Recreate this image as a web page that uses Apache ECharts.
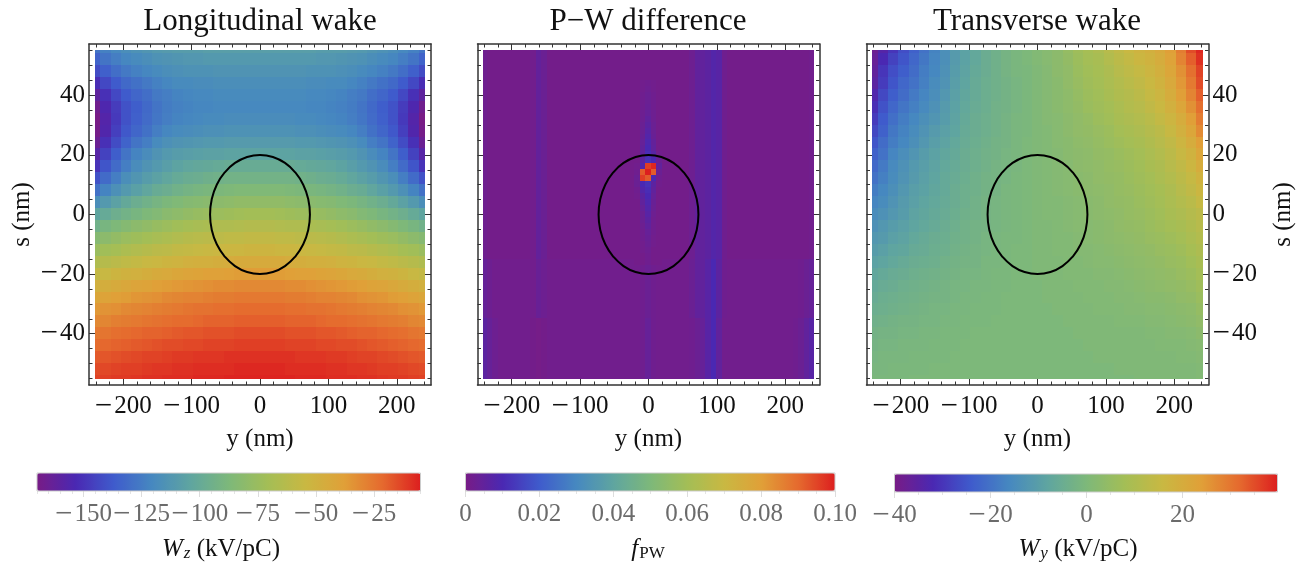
<!DOCTYPE html>
<html lang="en">
<head>
    <meta charset="utf-8" />
    <title>Wake fields</title>
    <script type="text/javascript" src="https://cdn.jsdelivr.net/npm/echarts@6/dist/echarts.min.js"></script>
    <style type="text/css">
        html, body { margin: 0; padding: 0; background: #fff; }
    </style>
</head>
<body>
    <div id="main" style="width:1310px;height:566px;"></div>

    <script type="text/javascript">
        // cell centres of the longitudinal and transverse maps
        var yCols = [-240, -225, -210, -195, -180, -165, -150, -135, -120, -105, -90, -75, -60, -45, -30, -15, 0, 15, 30, 45, 60, 75, 90, 105, 120, 135, 150, 165, 180, 195, 210, 225, 240];
        var sRows = [56, 52, 48, 44, 40, 36, 32, 28, 24, 20, 16, 12, 8, 4, 0, -4, -8, -12, -16, -20, -24, -28, -32, -36, -40, -44, -48, -52, -56];

        // W_z (kV/pC) is symmetric in y: one line per sRows entry, y = -240..0
        var wakeZ = [
            [-128, -123, -120, -117, -115, -113, -111, -110, -109, -109, -109, -108, -108, -108, -108, -108, -108],
            [-134, -128, -124, -121, -119, -117, -115, -114, -113, -112, -112, -111, -111, -111, -111, -111, -111],
            [-142, -135, -130, -126, -123, -121, -119, -117, -116, -115, -115, -115, -114, -114, -114, -114, -114],
            [-152, -143, -137, -132, -129, -126, -123, -121, -119, -119, -118, -118, -117, -117, -117, -117, -117],
            [-161, -151, -143, -137, -133, -130, -126, -124, -122, -121, -120, -120, -119, -119, -119, -119, -119],
            [-167, -155, -147, -140, -136, -132, -128, -125, -123, -122, -121, -121, -120, -120, -120, -120, -120],
            [-170, -157, -148, -140, -135, -131, -127, -124, -122, -121, -120, -119, -119, -118, -118, -118, -118],
            [-169, -156, -146, -138, -133, -129, -124, -121, -119, -118, -117, -116, -116, -115, -115, -115, -115],
            [-165, -151, -142, -134, -128, -124, -119, -116, -114, -113, -112, -111, -111, -110, -110, -110, -110],
            [-158, -145, -136, -128, -122, -118, -114, -111, -109, -108, -107, -106, -106, -105, -105, -105, -105],
            [-150, -139, -131, -124, -118, -114, -111, -108, -105, -103, -102, -101, -100, -99, -99, -99, -99],
            [-140, -131, -124, -117, -113, -109, -106, -103, -100, -98, -97, -95, -94, -93, -93, -93, -93],
            [-129, -122, -116, -111, -107, -103, -99, -97, -94, -92, -90, -89, -88, -87, -86, -86, -86],
            [-117, -111, -106, -101, -97, -94, -91, -88, -86, -84, -83, -82, -81, -80, -79, -79, -79],
            [-104, -100, -96, -93, -90, -87, -85, -82, -80, -78, -76, -75, -74, -73, -72, -71, -71],
            [-94, -90, -87, -84, -81, -79, -76, -74, -72, -70, -69, -68, -66, -66, -65, -64, -64],
            [-84, -81, -78, -75, -73, -71, -69, -67, -65, -63, -62, -61, -60, -59, -59, -58, -58],
            [-75, -72, -70, -67, -65, -63, -61, -60, -58, -57, -56, -55, -54, -53, -53, -52, -52],
            [-66, -63, -61, -59, -57, -55, -54, -52, -51, -49, -48, -48, -47, -46, -45, -45, -45],
            [-57, -55, -52, -50, -49, -47, -45, -44, -42, -41, -40, -39, -39, -38, -37, -37, -37],
            [-49, -47, -45, -43, -41, -40, -38, -37, -36, -35, -34, -33, -32, -32, -31, -31, -31],
            [-42, -40, -38, -37, -35, -34, -33, -31, -30, -29, -29, -28, -27, -27, -26, -26, -26],
            [-36, -34, -33, -31, -30, -29, -28, -27, -26, -25, -24, -24, -23, -23, -22, -22, -22],
            [-31, -30, -28, -27, -26, -25, -24, -23, -22, -22, -21, -20, -20, -20, -19, -19, -19],
            [-26, -25, -23, -22, -21, -20, -20, -19, -18, -17, -17, -16, -16, -16, -15, -15, -15],
            [-22, -21, -20, -19, -18, -17, -16, -15, -15, -14, -14, -13, -13, -13, -12, -12, -12],
            [-18, -17, -16, -15, -14, -13, -13, -12, -11, -11, -10, -10, -10, -9, -9, -9, -9],
            [-15, -14, -13, -12, -12, -11, -10, -10, -9, -9, -8, -8, -8, -8, -7, -7, -7],
            [-13, -12, -11, -11, -10, -9, -9, -8, -8, -8, -7, -7, -7, -6, -6, -6, -6]
        ];

        // W_y (kV/pC), one line per sRows entry
        var wakeY = [
            [-38, -34, -30, -26, -23, -20, -17, -14, -11, -9, -7, -5, -3.5, -2, -1, 0, 1, 2, 3, 5, 7, 8.5, 10, 12, 14, 16, 17.5, 19, 21, 24, 29, 35, 39],
            [-37, -32, -28, -25, -22, -19, -16.5, -14, -11, -9, -7, -5, -3.5, -2, -1, 0, 1, 2, 3, 4.5, 6.5, 8, 9, 11, 13, 14.5, 16.5, 18, 20, 23, 28, 33, 38],
            [-36, -30, -26, -23.5, -21, -18, -16, -13.5, -10.5, -8.5, -6.5, -5, -3.5, -2, -1, -0.5, 0.5, 1.5, 3, 4, 6, 7.5, 8.5, 10, 12, 13.5, 15, 17, 19, 22, 26, 31, 36],
            [-35, -29, -25, -22, -20, -17.5, -15, -13, -10, -8, -6, -4.5, -3.5, -2.5, -1.5, -0.5, 0.5, 1.5, 2.5, 4, 5.5, 7, 8, 9.5, 11, 12.5, 14, 16, 18, 21, 25, 29.5, 35],
            [-33, -27, -23.5, -21, -18.5, -16.5, -14.5, -12, -9.5, -7.5, -6, -4.5, -3.5, -2.5, -1.5, -0.5, 0.5, 1.5, 2.5, 3.5, 5, 6.5, 7.5, 9, 10.5, 11.5, 13, 15, 17, 20, 24, 28, 33],
            [-31, -25.5, -22, -19.5, -17.5, -15.5, -13.5, -11, -9, -7, -5.5, -4.5, -3, -2.5, -1.5, -0.5, 0.5, 1.5, 2.5, 3.5, 4.5, 6, 7, 8, 9.5, 11, 12, 14, 16, 18.5, 22, 26, 31],
            [-29, -24, -20.5, -18, -16, -14, -12.5, -10.5, -8.5, -6.5, -5, -4, -3, -2, -1, -0.5, 0.5, 1.5, 2, 3, 4, 5, 6.5, 7.5, 9, 10, 11, 12.5, 14.5, 17, 20, 24, 29],
            [-27, -23, -19, -17, -15, -13, -11, -9.5, -8, -6, -5, -4, -3, -2, -1, -0.5, 0.5, 1, 2, 3, 4, 4.5, 5.5, 6.5, 8, 9, 10, 11.5, 13, 15.5, 18.5, 22, 27],
            [-25, -21, -18, -16, -14, -12, -10, -8.5, -7, -5.5, -4.5, -3.5, -2.5, -2, -1, 0, 0.5, 1, 2, 2.5, 3.5, 4, 5, 6, 7, 8, 9, 10.5, 12, 14, 17, 20, 24],
            [-23, -20, -16.5, -14.5, -12.5, -10.5, -9, -7.5, -6.5, -5, -4, -3, -2.5, -1.5, -1, 0, 0.5, 1, 1.5, 2.5, 3, 3.5, 4.5, 5, 6, 7, 8, 9.5, 11, 13, 15.5, 18, 22],
            [-21.5, -18.5, -15.5, -13.5, -11.5, -10, -8.5, -7, -6, -5, -4, -3, -2, -1.5, -1, 0, 0.5, 1, 1.5, 2, 3, 3.5, 4, 5, 5.5, 6.5, 7.5, 9, 10, 12, 14, 16.5, 20],
            [-20, -17.5, -15, -13, -11, -9.5, -8, -6.5, -5.5, -4.5, -3.5, -2.5, -2, -1.5, -0.5, 0, 0.5, 1, 1.5, 2, 2.5, 3, 4, 4.5, 5, 6, 7, 8, 9.5, 11, 13, 15, 18],
            [-18, -16, -14, -12, -10, -9, -7.5, -6.5, -5, -4, -3.5, -2.5, -2, -1, -0.5, 0, 0.5, 1, 1.5, 2, 2.5, 3, 3.5, 4, 5, 5.5, 6.5, 7.5, 8.5, 10, 12, 14, 16.5],
            [-16.5, -15, -13, -11, -9.5, -8, -7, -6, -5, -4, -3, -2, -1.5, -1, -0.5, 0, 0.5, 1, 1, 1.5, 2, 2.5, 3, 4, 4.5, 5, 6, 7, 8, 9.5, 11, 12.5, 15],
            [-15, -13.5, -12, -10.5, -8.5, -7.5, -6.5, -5.5, -4.5, -3.5, -3, -2, -1.5, -1, -0.5, 0, 0.5, 1, 1, 1.5, 2, 2.5, 3, 3.5, 4, 5, 5.5, 6.5, 7.5, 9, 10, 11.5, 13],
            [-13.5, -12, -10.5, -9.5, -8, -7, -6, -5, -4, -3, -2.5, -2, -1.5, -1, -0.5, 0, 0.5, 0.5, 1, 1.5, 2, 2, 2.5, 3, 4, 4.5, 5, 6, 7, 8, 9, 10.5, 12],
            [-12, -11, -9.5, -8.5, -7, -6, -5, -4.5, -3.5, -3, -2.5, -1.5, -1, -0.5, -0.5, 0, 0.5, 0.5, 1, 1, 1.5, 2, 2.5, 3, 3.5, 4, 4.5, 5.5, 6, 7, 8, 9.5, 11],
            [-10.5, -9.5, -8, -7.5, -6, -5.5, -4.5, -4, -3, -2.5, -2, -1.5, -1, -0.5, 0, 0, 0.5, 0.5, 1, 1, 1.5, 1.5, 2, 2.5, 3, 3.5, 4, 4.5, 5.5, 6, 7, 8.5, 10],
            [-9, -8, -7, -6, -5, -4.5, -4, -3, -2.5, -2, -2, -1, -1, -0.5, 0, 0, 0.5, 0.5, 0.5, 1, 1, 1.5, 2, 2, 2.5, 3, 3.5, 4, 4.5, 5.5, 6, 7.5, 9],
            [-7.5, -6.5, -5.5, -5, -4, -3.5, -3, -2.5, -2, -1.5, -1.5, -1, -0.5, -0.5, 0, 0, 0.5, 0.5, 0.5, 1, 1, 1, 1.5, 1.5, 2, 2.5, 3, 3.5, 4, 4.5, 5.5, 6.5, 8],
            [-6.5, -5.5, -5, -4, -3.5, -3, -2.5, -2, -1.5, -1.5, -1, -1, -0.5, -0.5, 0, 0, 0, 0.5, 0.5, 0.5, 1, 1, 1, 1.5, 1.5, 2, 2.5, 3, 3.5, 4, 4.5, 5.5, 7],
            [-5.5, -4.5, -4, -3.5, -3, -2.5, -2, -2, -1.5, -1, -1, -0.5, -0.5, 0, 0, 0, 0, 0.5, 0.5, 0.5, 0.5, 1, 1, 1, 1.5, 1.5, 2, 2.5, 2.5, 3, 4, 4.5, 6],
            [-4.5, -4, -3.5, -3, -2.5, -2, -1.5, -1.5, -1, -1, -0.5, -0.5, -0.5, 0, 0, 0, 0, 0, 0.5, 0.5, 0.5, 0.5, 1, 1, 1, 1.5, 1.5, 2, 2, 2.5, 3, 3.5, 5],
            [-3.5, -3, -2.5, -2, -2, -1.5, -1.5, -1, -1, -0.5, -0.5, -0.5, 0, 0, 0, 0, 0, 0, 0, 0.5, 0.5, 0.5, 0.5, 0.5, 1, 1, 1, 1.5, 1.5, 2, 2.5, 3, 4],
            [-2.5, -2, -2, -1.5, -1.5, -1, -1, -0.5, -0.5, -0.5, 0, 0, 0, 0, 0, 0, 0, 0, 0, 0, 0.5, 0.5, 0.5, 0.5, 0.5, 0.5, 0.5, 1, 1, 1.5, 1.5, 2, 3],
            [-2, -1.5, -1.5, -1, -1, -1, -0.5, -0.5, -0.5, 0, 0, 0, 0, 0, 0, 0, 0, 0, 0, 0, 0, 0.5, 0.5, 0.5, 0.5, 0.5, 0.5, 0.5, 1, 1, 1, 1.5, 2],
            [-1.5, -1, -1, -1, -0.5, -0.5, -0.5, -0.5, 0, 0, 0, 0, 0, 0, 0, 0, 0, 0, 0, 0, 0, 0, 0.5, 0.5, 0.5, 0.5, 0.5, 0.5, 0.5, 0.5, 1, 1, 1.5],
            [-1, -1, -0.5, -0.5, -0.5, -0.5, 0, 0, 0, 0, 0, 0, 0, 0, 0, 0, 0, 0, 0, 0, 0, 0, 0, 0, 0.5, 0.5, 0.5, 0.5, 0.5, 0.5, 0.5, 0.5, 1],
            [-0.5, -0.5, -0.5, -0.5, 0, 0, 0, 0, 0, 0, 0, 0, 0, 0, 0, 0, 0, 0, 0, 0, 0, 0, 0, 0, 0, 0, 0.5, 0.5, 0.5, 0.5, 0.5, 0.5, 1]
        ];

        // f_PW map is finer: 8 nm columns, 2 nm rows, values in 1e-3
        var pwCols = [-240, -232, -224, -216, -208, -200, -192, -184, -176, -168, -160, -152, -144, -136, -128, -120, -112, -104, -96, -88, -80, -72, -64, -56, -48, -40, -32, -24, -16, -8, 0, 8, 16, 24, 32, 40, 48, 56, 64, 72, 80, 88, 96, 104, 112, 120, 128, 136, 144, 152, 160, 168, 176, 184, 192, 200, 208, 216, 224, 232, 240];
        var pwRows = [54, 52, 50, 48, 46, 44, 42, 40, 38, 36, 34, 32, 30, 28, 26, 24, 22, 20, 18, 16, 14, 12, 10, 8, 6, 4, 2, 0, -2, -4, -6, -8, -10, -12, -14, -16, -18, -20, -22, -24, -26, -28, -30, -32, -34, -36, -38, -40, -42, -44, -46, -48, -50, -52, -54];
        // stripe profiles along y: s >= -14, -34 <= s <= -16, s <= -36
        var pwTop = [2, 1, 1, 1, 1, 1, 1, 1, 1, 1.5, 4.5, 3, 1, 1, 1, 1, 1, 1, 1, 1, 1, 1, 1, 1, 1, 1, 1, 1, 1, 1, 1, 1, 1, 1, 1, 1, 1, 1, 2.5, 5, 5, 6, 8, 7, 2, 1, 1, 1, 1, 1, 1, 1, 1, 1, 1, 1, 1, 1, 1, 1, 1.5];
        var pwMid = [4, 2.5, 1.5, 1.5, 1.5, 1.5, 1.5, 1.5, 1.5, 1.5, 3.5, 2.5, 1.5, 1.5, 1.5, 1.5, 1.5, 1.5, 1.5, 1.5, 1.5, 1.5, 1.5, 1.5, 1.5, 1.5, 1.5, 1.5, 1.5, 2, 3, 2, 1.5, 1.5, 1.5, 1.5, 1.5, 1.5, 3, 5, 5, 7, 10, 6, 2, 1.5, 1.5, 1.5, 1.5, 1.5, 1.5, 1.5, 1.5, 1.5, 1.5, 1.5, 1.5, 1.5, 2, 3, 4];
        var pwLow = [6, 4, 2.5, 1.5, 1.5, 1.5, 1.5, 1.5, 1.5, 1, 0.5, 1, 1.5, 1.5, 1.5, 1.5, 1.5, 1.5, 1.5, 1.5, 1.5, 1.5, 1.5, 1.5, 1.5, 1.5, 1.5, 1.5, 1.5, 2, 4, 2, 1.5, 1.5, 1.5, 1.5, 1.5, 1.5, 2, 3, 4, 7, 10, 5, 1.5, 1.5, 1.5, 1.5, 1.5, 1.5, 1.5, 1.5, 1.5, 1.5, 1.5, 1.5, 1.5, 2, 3, 5, 7];
        // centre feature, y = -16..16, s = 44..-16 step 2
        var pwCoreCols = [-16, -8, 0, 8, 16];
        var pwCoreRows = [44, 42, 40, 38, 36, 34, 32, 30, 28, 26, 24, 22, 20, 18, 16, 14, 12, 10, 8, 6, 4, 2, 0, -2, -4, -6, -8, -10, -12, -14, -16];
        var pwCore = [
            [1, 1.5, 2, 1.5, 1], [1, 1.5, 2.5, 1.5, 1], [1, 2, 3, 2, 1], [1, 2, 3, 2, 1], [1, 2, 3.5, 2, 1],
            [1, 2.5, 4, 2.5, 1], [1, 2.5, 5, 2.5, 1], [1, 3, 6, 3, 1], [1, 3, 7, 3, 1], [1, 3.5, 8, 3.5, 1],
            [1, 4, 9, 4.5, 1], [1, 4.5, 10, 5, 1], [1, 5, 11, 7, 1.5], [1, 6, 12, 10, 3], [1.5, 8, 96, 99, 5],
            [2, 92, 100, 92, 3], [3, 96, 92, 10, 2], [3, 10, 12, 6, 1.5], [2, 8, 11, 5, 1], [1.5, 6, 10, 4, 1],
            [1, 5, 9, 3.5, 1], [1, 4, 8, 3, 1], [1, 3, 7, 2.5, 1], [1, 3, 6, 2, 1], [1, 2.5, 5, 2, 1],
            [1, 2, 4, 2, 1], [1, 2, 3.5, 1.5, 1], [1, 1.5, 3, 1.5, 1], [1, 1.5, 2.5, 1, 1], [1, 1, 2, 1, 1], [1, 1, 2, 1, 1]
        ];

        // beam outline, same in all three panels
        var ellipseY = [73, 70.5, 63.2, 51.6, 36.5, 18.9, 0, -18.9, -36.5, -51.6, -63.2, -70.5, -73, -70.5, -63.2, -51.6, -36.5, -18.9, 0, 18.9, 36.5, 51.6, 63.2, 70.5, 73];
        var ellipseS = [0, 5.2, 10, 14.1, 17.3, 19.3, 20, 19.3, 17.3, 14.1, 10, 5.2, 0, -5.2, -10, -14.1, -17.3, -19.3, -20, -19.3, -17.3, -14.1, -10, -5.2, 0];

        // frame ticks
        var yMajor = [-200, -100, 0, 100, 200];
        var yMinor = [-240, -220, -180, -160, -140, -120, -80, -60, -40, -20, 20, 40, 60, 80, 120, 140, 160, 180, 220, 240];
        var sMajor = [-40, -20, 0, 20, 40];
        var sMinor = [-55, -50, -45, -35, -30, -25, -15, -10, -5, 5, 10, 15, 25, 30, 35, 45, 50, 55];

        // colour bar ticks
        var barZMajor = [-150, -125, -100, -75, -50, -25];
        var barZMinor = [-170, -165, -160, -155, -145, -140, -135, -130, -120, -115, -110, -105, -95, -90, -85, -80, -70, -65, -60, -55, -45, -40, -35, -30, -20, -15, -10, -5];
        var barPwMajor = [0, 0.02, 0.04, 0.06, 0.08, 0.1];
        var barPwMinor = [0.005, 0.01, 0.015, 0.025, 0.03, 0.035, 0.045, 0.05, 0.055, 0.065, 0.07, 0.075, 0.085, 0.09, 0.095];
        var barYMajor = [-40, -20, 0, 20];
        var barYMinor = [-35, -30, -25, -15, -10, -5, 5, 10, 15, 25, 30, 35];

        var rainbow = ['#781C86', '#4A28B2', '#3F5BCC', '#4688C0', '#5FA5A0', '#7DB87A', '#A3BE56', '#C9B842', '#E0A038', '#E56A2E', '#DC1F1F'];
        var FONT = 'Liberation Serif';

        function minusText(v) {
            return v < 0 ? '{m|\u2212}{n|' + Math.abs(v) + '}' : String(v);
        }
        function pwText(v) {
            return v === 0 ? '0' : v.toFixed(2);
        }
        function labelRich(color) {
            // same line height as the plain labels, so negative values stay on the row
            return {
                m: { fontFamily: FONT, fontSize: 31, lineHeight: 25, color: color, padding: [0, 2, 0, 0] },
                n: { fontFamily: FONT, fontSize: 25, lineHeight: 25, color: color }
            };
        }

        function cells(rows, cols, rowVals) {
            var out = [];
            for (var j = 0; j < rows.length; j++) {
                for (var i = 0; i < rows[j].length; i++) {
                    out.push([cols[i], rowVals[j], rows[j][i]]);
                }
            }
            return out;
        }

        function mirrored(rows) {
            return rows.map(function (r) {
                return r.concat(r.slice(0, r.length - 1).reverse());
            });
        }

        function pwCells() {
            var rows = [];
            for (var j = 0; j < pwRows.length; j++) {
                var s = pwRows[j];
                var base = s >= -14 ? pwTop : (s >= -34 ? pwMid : pwLow);
                var row = [];
                for (var i = 0; i < pwCols.length; i++) {
                    var v = base[i];
                    var a = pwCoreRows.indexOf(s);
                    var b = pwCoreCols.indexOf(pwCols[i]);
                    if (a >= 0 && b >= 0) v = pwCore[a][b];
                    row.push(v / 1000);
                }
                rows.push(row);
            }
            return cells(rows, pwCols, pwRows);
        }

        var panels = [
            { frameLeft: 89, yLabels: 'left', cellW: 15, cellH: 4, data: cells(mirrored(wakeZ), yCols, sRows), min: -170, max: -5 },
            { frameLeft: 477.5, yLabels: null, cellW: 8, cellH: 2, data: pwCells(), min: 0, max: 0.1 },
            { frameLeft: 866.5, yLabels: 'right', cellW: 15, cellH: 4, data: cells(wakeY, yCols, sRows), min: -40, max: 39.8 }
        ];
        var bars = [
            { left: 37, top: 473, width: 383.5, major: barZMajor, minor: barZMinor, fmt: minusText, min: -170, max: -5 },
            { left: 465.5, top: 473, width: 369.5, major: barPwMajor, minor: barPwMinor, fmt: pwText, min: 0, max: 0.1 },
            { left: 894.5, top: 474, width: 383, major: barYMajor, minor: barYMinor, fmt: minusText, min: -40, max: 39.8 }
        ];

        var grid = [], xAxis = [], yAxis = [], series = [], visualMap = [];

        // image stops at +-241 / +-55, the frame at +-250 / +-57.2
        function cellRenderer(w, h) {
            return function (params, api) {
                var y = api.value(0), s = api.value(1);
                var a = api.coord([Math.max(y - w / 2, -241), Math.min(s + h / 2, 55)]);
                var b = api.coord([Math.min(y + w / 2, 241), Math.max(s - h / 2, -55)]);
                var x0 = Math.floor(a[0]), y0 = Math.floor(a[1]);
                return {
                    type: 'rect',
                    shape: { x: x0, y: y0, width: Math.ceil(b[0]) - x0, height: Math.ceil(b[1]) - y0 },
                    style: { fill: api.visual('color') }
                };
            };
        }

        function frameAxis(kind, gridIndex, pos, major, ticks, len, labelled, line) {
            var ax = {
                type: 'value',
                gridIndex: gridIndex,
                position: pos,
                min: kind === 'x' ? -250 : -57.2,
                max: kind === 'x' ? 250 : 57.2,
                splitLine: { show: false },
                axisLine: { show: line, onZero: false, lineStyle: { color: '#333', width: 1.5 } },
                axisTick: { show: true, inside: true, length: len, customValues: ticks, lineStyle: { color: '#333', width: 1 } },
                axisLabel: { show: labelled }
            };
            if (labelled) {
                ax.axisLabel = {
                    show: true,
                    customValues: major,
                    formatter: minusText,
                    fontFamily: FONT,
                    fontSize: 25,
                    lineHeight: 25,
                    color: '#111',
                    rich: labelRich('#111'),
                    margin: kind === 'x' ? 9 : 4
                };
            }
            return ax;
        }

        panels.forEach(function (p, n) {
            // frame with major ticks
            var f = grid.length;
            grid.push({ left: p.frameLeft, top: 44, width: 342, height: 341 });
            var xb = frameAxis('x', f, 'bottom', yMajor, yMajor, 6, true, true);
            xb.name = 'y (nm)';
            xb.nameLocation = 'middle';
            xb.nameGap = 40;
            xb.nameTextStyle = { fontFamily: FONT, fontSize: 25, color: '#111' };
            xAxis.push(xb);
            var xIndex = xAxis.length - 1;
            xAxis.push(frameAxis('x', f, 'top', yMajor, yMajor, 6, false, true));
            var yl = frameAxis('y', f, 'left', sMajor, sMajor, 6, p.yLabels === 'left', true);
            var yr = frameAxis('y', f, 'right', sMajor, sMajor, 6, p.yLabels === 'right', true);
            if (p.yLabels) {
                var ya = p.yLabels === 'left' ? yl : yr;
                ya.name = 's (nm)';
                ya.nameLocation = 'middle';
                ya.nameRotate = 90;
                ya.nameGap = p.yLabels === 'left' ? 54 : 62;
                ya.nameTextStyle = { fontFamily: FONT, fontSize: 25, color: '#111' };
                ya.axisLabel.align = p.yLabels === 'left' ? 'right' : 'left';
            }
            yAxis.push(yl);
            var yIndex = yAxis.length - 1;
            yAxis.push(yr);

            visualMap.push({
                type: 'continuous', seriesIndex: series.length, dimension: 2, min: p.min, max: p.max,
                orient: 'horizontal', left: bars[n].left, top: bars[n].top,
                itemWidth: 18, itemHeight: bars[n].width, padding: 0, text: null,
                calculable: false, hoverLink: false, inRange: { color: rainbow }
            });
            series.push({
                type: 'custom', xAxisIndex: xIndex, yAxisIndex: yIndex,
                data: p.data, encode: { x: 0, y: 1 },
                renderItem: cellRenderer(p.cellW, p.cellH),
                progressive: 0, silent: true, z: 1
            });

            // shorter ticks on an identical grid
            var m = grid.length;
            grid.push({ left: p.frameLeft, top: 44, width: 342, height: 341 });
            xAxis.push(frameAxis('x', m, 'bottom', [], yMinor, 3.5, false, false));
            xAxis.push(frameAxis('x', m, 'top', [], yMinor, 3.5, false, false));
            yAxis.push(frameAxis('y', m, 'left', [], sMinor, 3.5, false, false));
            yAxis.push(frameAxis('y', m, 'right', [], sMinor, 3.5, false, false));

            series.push({
                type: 'line', xAxisIndex: xIndex, yAxisIndex: yIndex,
                data: ellipseY.map(function (y, i) { return [y, ellipseS[i]]; }),
                smooth: true, showSymbol: false, symbol: 'none', silent: true, z: 5,
                lineStyle: { color: '#000', width: 2 }
            });
        });

        bars.forEach(function (b) {
            var g = grid.length;
            grid.push({ left: b.left, top: b.top, width: b.width, height: 18, z: 6, show: true, borderColor: '#ccc', borderWidth: 1 });
            xAxis.push({
                type: 'value', gridIndex: g, position: 'bottom', min: b.min, max: b.max,
                splitLine: { show: false }, axisLine: { show: false },
                axisTick: { show: true, length: 6, customValues: b.major, lineStyle: { color: '#ddd' } },
                axisLabel: { show: true, customValues: b.major, formatter: b.fmt, fontFamily: FONT, fontSize: 25, lineHeight: 25, color: '#6b6b6b', rich: labelRich('#6b6b6b'), margin: 11 }
            });
            yAxis.push({ type: 'value', gridIndex: g, show: false, min: 0, max: 1 });
            var m = grid.length;
            grid.push({ left: b.left, top: b.top, width: b.width, height: 18, z: 6 });
            xAxis.push({
                type: 'value', gridIndex: m, position: 'bottom', min: b.min, max: b.max,
                splitLine: { show: false }, axisLine: { show: false }, axisLabel: { show: false },
                axisTick: { show: true, length: 3, customValues: b.minor, lineStyle: { color: '#e4e4e4' } }
            });
            yAxis.push({ type: 'value', gridIndex: m, show: false, min: 0, max: 1 });
        });

        var wStyle = {
            i: { fontFamily: FONT, fontStyle: 'italic', fontSize: 25, color: '#111' },
            sub: { fontFamily: FONT, fontStyle: 'italic', fontSize: 17, color: '#111', verticalAlign: 'bottom', padding: [8, 0, 0, 1] },
            subr: { fontFamily: FONT, fontSize: 17, color: '#111', verticalAlign: 'bottom', padding: [8, 0, 0, 1] },
            t: { fontFamily: FONT, fontSize: 25, color: '#111' }
        };
        function heading(text, cx, top) {
            return { text: text, left: cx, top: top, textAlign: 'center', padding: 0, textStyle: { fontFamily: FONT, fontSize: 31, fontWeight: 'normal', color: '#111' } };
        }
        function barLabel(text, cx, top) {
            return { text: text, left: cx, top: top, textAlign: 'center', padding: 0, textStyle: { rich: wStyle, fontFamily: FONT, fontSize: 25, fontWeight: 'normal' } };
        }

        var myChart = echarts.init(document.getElementById('main'), null, { renderer: 'canvas' });
        myChart.setOption({
            animation: false,
            backgroundColor: '#fff',
            tooltip: { show: false },
            title: [
                heading('Longitudinal wake', 260, 6),
                heading('P\u2212W difference', 648, 6),
                heading('Transverse wake', 1037, 6),
                barLabel('{i|W}{sub|z}{t| (kV/pC)}', 221, 537),
                barLabel('{i|f}{subr|PW}', 648, 537),
                barLabel('{i|W}{sub|y}{t| (kV/pC)}', 1078, 537)
            ],
            grid: grid,
            xAxis: xAxis,
            yAxis: yAxis,
            visualMap: visualMap,
            series: series
        });
    </script>
</body>
</html>
